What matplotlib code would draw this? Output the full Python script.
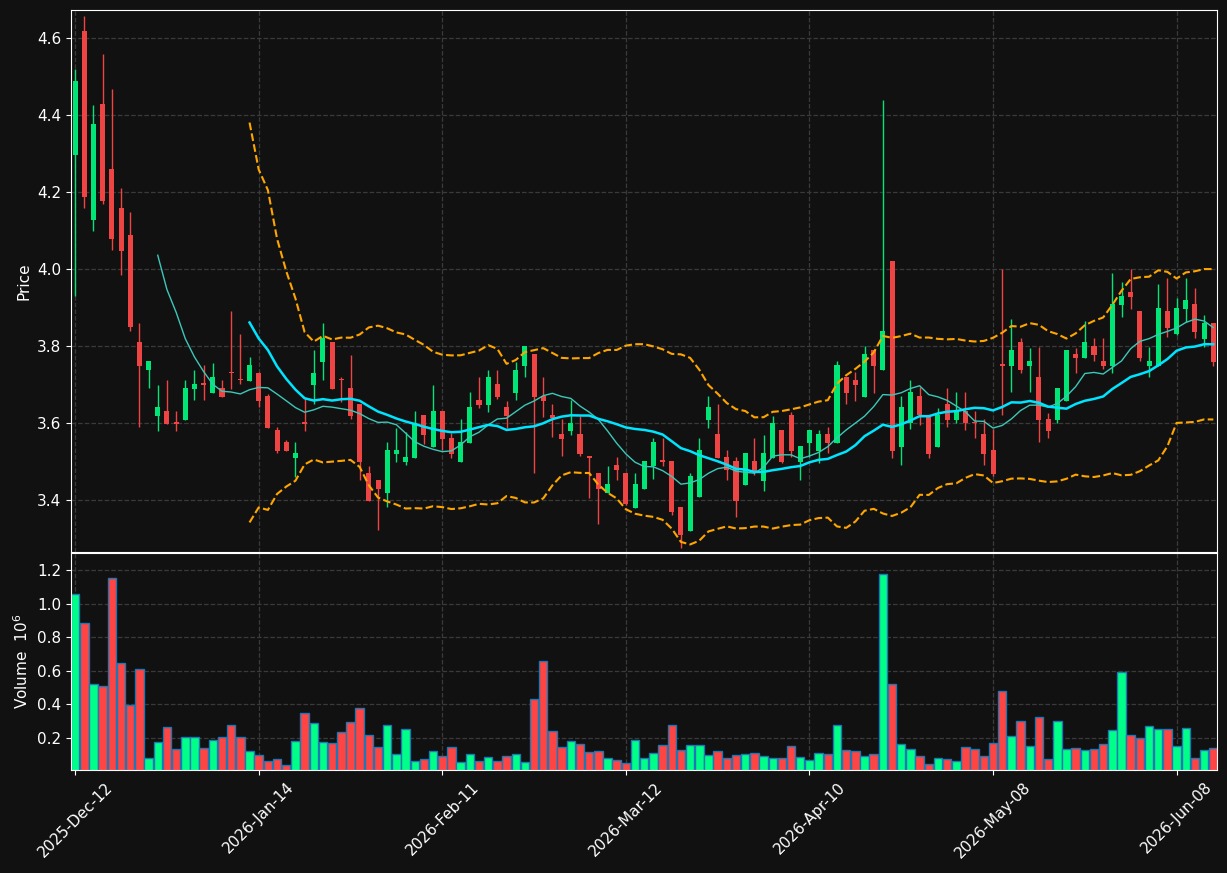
import numpy as np
import pandas as pd
import matplotlib
matplotlib.use('Agg')
import matplotlib.pyplot as plt

plt.rcParams.update({'font.size': 11,
                     'font.family': 'DejaVu Sans',
                     'text.color': 'white',
                     'axes.labelcolor': 'white',
                     'xtick.color': 'white',
                     'ytick.color': 'white'})

# daily OHLC (price) and volume (millions)
opens = [4.297, 4.618, 4.128, 4.429, 4.259, 4.158, 4.088, 3.810, 3.738, 3.619,
         3.631, 3.600, 3.609, 3.688, 3.701, 3.679, 3.691, 3.731, 3.713, 3.710,
         3.730, 3.670, 3.582, 3.551, 3.510, 3.600, 3.700, 3.759, 3.810, 3.713,
         3.691, 3.649, 3.470, 3.452, 3.419, 3.520, 3.499, 3.510, 3.621, 3.539,
         3.631, 3.561, 3.499, 3.549, 3.660, 3.648, 3.701, 3.642, 3.679, 3.749,
         3.779, 3.670, 3.621, 3.571, 3.580, 3.571, 3.512, 3.469, 3.419, 3.490,
         3.469, 3.380, 3.429, 3.489, 3.501, 3.501, 3.382, 3.320, 3.409, 3.609,
         3.571, 3.512, 3.501, 3.440, 3.501, 3.450, 3.510, 3.582, 3.621, 3.499,
         3.549, 3.528, 3.571, 3.549, 3.719, 3.712, 3.668, 3.790, 3.738, 4.021,
         3.539, 3.599, 3.670, 3.616, 3.539, 3.650, 3.609, 3.631, 3.602, 3.571,
         3.530, 3.751, 3.749, 3.810, 3.749, 3.719, 3.610, 3.609, 3.658, 3.779,
         3.770, 3.800, 3.761, 3.749, 3.907, 3.940, 3.891, 3.749, 3.749, 3.891,
         3.831, 3.896, 3.909, 3.819, 3.859]
highs = [4.519, 4.657, 4.427, 4.558, 4.467, 4.210, 4.149, 3.859, 3.762, 3.700,
         3.712, 3.630, 3.712, 3.739, 3.751, 3.755, 3.713, 3.890, 3.831, 3.771,
         3.732, 3.675, 3.589, 3.555, 3.550, 3.664, 3.789, 3.859, 3.811, 3.719,
         3.778, 3.650, 3.489, 3.453, 3.550, 3.586, 3.577, 3.631, 3.622, 3.700,
         3.632, 3.573, 3.610, 3.680, 3.719, 3.739, 3.739, 3.658, 3.759, 3.801,
         3.780, 3.719, 3.649, 3.610, 3.660, 3.618, 3.513, 3.470, 3.489, 3.511,
         3.470, 3.469, 3.502, 3.561, 3.561, 3.502, 3.383, 3.469, 3.561, 3.670,
         3.649, 3.530, 3.511, 3.523, 3.561, 3.570, 3.619, 3.583, 3.629, 3.541,
         3.583, 3.582, 3.589, 3.761, 3.720, 3.733, 3.800, 3.791, 4.439, 4.022,
         3.670, 3.712, 3.694, 3.617, 3.640, 3.691, 3.681, 3.681, 3.631, 3.610,
         3.584, 3.999, 3.869, 3.820, 3.794, 3.798, 3.625, 3.692, 3.791, 3.794,
         3.864, 3.820, 3.820, 3.989, 3.967, 3.999, 3.892, 3.798, 3.960, 3.978,
         3.924, 3.978, 3.950, 3.880, 3.860]
lows = [3.930, 4.158, 4.098, 4.168, 4.049, 3.984, 3.839, 3.590, 3.690, 3.580,
        3.598, 3.580, 3.608, 3.659, 3.659, 3.678, 3.667, 3.689, 3.701, 3.709,
        3.641, 3.587, 3.521, 3.527, 3.461, 3.580, 3.649, 3.712, 3.688, 3.655,
        3.610, 3.452, 3.397, 3.322, 3.381, 3.499, 3.491, 3.509, 3.545, 3.538,
        3.530, 3.510, 3.498, 3.548, 3.640, 3.629, 3.663, 3.587, 3.660, 3.719,
        3.469, 3.615, 3.564, 3.515, 3.570, 3.515, 3.404, 3.339, 3.418, 3.452,
        3.388, 3.379, 3.428, 3.455, 3.489, 3.360, 3.275, 3.319, 3.408, 3.588,
        3.509, 3.452, 3.355, 3.439, 3.464, 3.424, 3.509, 3.495, 3.512, 3.452,
        3.513, 3.495, 3.523, 3.548, 3.649, 3.658, 3.667, 3.679, 3.737, 3.510,
        3.490, 3.585, 3.594, 3.510, 3.538, 3.589, 3.599, 3.582, 3.560, 3.490,
        3.462, 3.621, 3.680, 3.729, 3.680, 3.550, 3.560, 3.599, 3.657, 3.729,
        3.769, 3.761, 3.740, 3.729, 3.875, 3.895, 3.761, 3.719, 3.748, 3.824,
        3.830, 3.863, 3.820, 3.798, 3.749]
closes = [4.488, 4.188, 4.378, 4.177, 4.079, 4.048, 3.849, 3.749, 3.761, 3.642,
          3.598, 3.598, 3.691, 3.701, 3.699, 3.719, 3.668, 3.729, 3.711, 3.751,
          3.658, 3.588, 3.528, 3.528, 3.522, 3.598, 3.730, 3.821, 3.689, 3.711,
          3.619, 3.499, 3.398, 3.429, 3.530, 3.530, 3.512, 3.599, 3.570, 3.631,
          3.559, 3.520, 3.551, 3.642, 3.647, 3.719, 3.668, 3.619, 3.739, 3.800,
          3.668, 3.658, 3.612, 3.559, 3.599, 3.520, 3.510, 3.429, 3.442, 3.479,
          3.390, 3.442, 3.501, 3.551, 3.499, 3.369, 3.310, 3.462, 3.530, 3.642,
          3.510, 3.479, 3.398, 3.522, 3.475, 3.522, 3.599, 3.499, 3.528, 3.540,
          3.582, 3.571, 3.549, 3.751, 3.679, 3.700, 3.779, 3.749, 3.839, 3.528,
          3.642, 3.681, 3.621, 3.520, 3.621, 3.609, 3.631, 3.599, 3.600, 3.520,
          3.468, 3.749, 3.790, 3.738, 3.761, 3.609, 3.580, 3.691, 3.790, 3.769,
          3.810, 3.777, 3.749, 3.909, 3.930, 3.928, 3.770, 3.761, 3.899, 3.848,
          3.899, 3.919, 3.837, 3.859, 3.759]
volumes = [1.058, 0.886, 0.520, 0.508, 1.153, 0.644, 0.395, 0.608, 0.082, 0.176,
           0.265, 0.135, 0.206, 0.206, 0.141, 0.188, 0.206, 0.277, 0.206, 0.123,
           0.099, 0.064, 0.076, 0.040, 0.182, 0.348, 0.289, 0.176, 0.170, 0.235,
           0.295, 0.378, 0.218, 0.147, 0.277, 0.105, 0.253, 0.064, 0.076, 0.123,
           0.093, 0.147, 0.058, 0.105, 0.064, 0.088, 0.064, 0.093, 0.105, 0.058,
           0.431, 0.656, 0.241, 0.147, 0.182, 0.164, 0.117, 0.123, 0.082, 0.070,
           0.052, 0.188, 0.082, 0.111, 0.159, 0.277, 0.129, 0.159, 0.159, 0.099,
           0.123, 0.082, 0.099, 0.105, 0.111, 0.093, 0.082, 0.082, 0.153, 0.088,
           0.070, 0.111, 0.105, 0.277, 0.129, 0.123, 0.093, 0.105, 1.176, 0.520,
           0.164, 0.135, 0.093, 0.046, 0.082, 0.076, 0.064, 0.147, 0.135, 0.093,
           0.170, 0.479, 0.212, 0.301, 0.153, 0.325, 0.076, 0.301, 0.135, 0.141,
           0.129, 0.135, 0.164, 0.247, 0.590, 0.218, 0.200, 0.271, 0.253, 0.253,
           0.153, 0.259, 0.082, 0.129, 0.141]
tick_pos = [0, 20, 40, 60, 80, 100, 120]
tick_labels = ['2025-Dec-12', '2026-Jan-14', '2026-Feb-11', '2026-Mar-12',
               '2026-Apr-10', '2026-May-08', '2026-Jun-08']

df = pd.DataFrame({'Open': opens, 'High': highs, 'Low': lows,
                   'Close': closes, 'Volume': volumes})
x = np.arange(len(df))
up = df['Close'] >= df['Open']
ma10 = df['Close'].rolling(10).mean()
ma20 = df['Close'].rolling(20).mean()
sd20 = df['Close'].rolling(20).std(ddof=0)

bg = '#111111'
c_up, c_dn = '#00e676', '#ef4444'
v_up, v_dn = '#00ff88', '#ff4444'

fig = plt.figure(figsize=(12.27, 8.73), dpi=100, facecolor=bg)
ax = fig.add_axes([71/1227, 1-552/873, 1146/1227, 542/873])
axv = fig.add_axes([71/1227, 1-770/873, 1146/1227, 217/873], sharex=ax)

for a in (ax, axv):
    a.set_facecolor(bg)
    for s in a.spines.values():
        s.set_color('white')
    a.grid(True, color='#3a3a3a', linestyle='--', linewidth=0.9)
    a.set_axisbelow(True)

ccol = np.where(up, c_up, c_dn)
ax.vlines(x, df['Low'], df['High'], colors=ccol, linewidth=1)
body = np.maximum((df['Close'] - df['Open']).abs(), 0.004)
ax.bar(x, body, bottom=np.minimum(df['Open'], df['Close']), width=0.55,
       color=ccol, linewidth=0)

ax.plot(x, ma10, color='#3cc8b8', linewidth=1)
ax.plot(x, ma20, color='#00e5ff', linewidth=1.8)
ax.plot(x, ma20 + 2*sd20, color='#ffa500', linestyle='--', linewidth=1.5)
ax.plot(x, ma20 - 2*sd20, color='#ffa500', linestyle='--', linewidth=1.5)

ax.set_ylim(3.265, 4.673)
ax.set_yticks([3.4, 3.6, 3.8, 4.0, 4.2, 4.4, 4.6])
ax.set_ylabel('Price')
ax.tick_params(axis='x', bottom=False, labelbottom=False)

axv.bar(x, df['Volume'], width=0.92, color=np.where(up, v_up, v_dn),
        edgecolor='#1f77b4', linewidth=1)
axv.set_ylim(0.0095, 1.301)
axv.set_yticks([0.2, 0.4, 0.6, 0.8, 1.0, 1.2])
axv.set_ylabel('Volume  $10^6$')
axv.set_xlim(-0.45, 124.4)
axv.set_xticks(tick_pos)
axv.set_xticklabels(tick_labels, rotation=45)

fig.savefig('out.png', dpi=100, facecolor=bg)
